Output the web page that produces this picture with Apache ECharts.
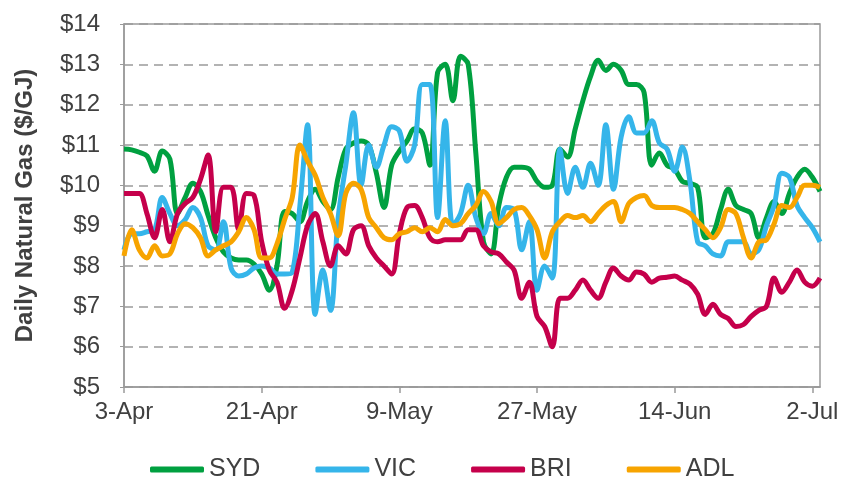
<!DOCTYPE html>
<html>
<head>
<meta charset="utf-8">
<script src="https://cdn.jsdelivr.net/npm/echarts@6/dist/echarts.min.js"></script>
<style>
  html, body { margin: 0; padding: 0; background: #fff; }
  #chart { width: 852px; height: 481px; }
</style>
</head>
<body>
<div id="chart"></div>
<script>
// daily prices, 3-Apr .. 3-Jul
const startDate = new Date(2000, 3, 3);
const dayCount = 92;
const months = ["Jan", "Feb", "Mar", "Apr", "May", "Jun", "Jul", "Aug", "Sep", "Oct", "Nov", "Dec"];

const syd = [10.9, 10.88, 10.82, 10.73, 10.35, 10.85, 10.65, 9.3, 9.7, 10.05,
  9.85, 9.25, 8.7, 8.35, 8.2, 8.15, 8.15, 8.05, 7.8, 7.4,
  8.0, 9.35, 9.3, 9.1, 9.6, 9.9, 9.6, 9.4, 10.2, 10.9,
  11.05, 11.1, 11.0, 10.3, 9.45, 10.5, 10.85, 11.1, 11.4, 11.3,
  10.5, 12.8, 13.0, 12.1, 13.2, 13.0, 10.8, 8.6, 8.3, 9.5,
  10.2, 10.45, 10.45, 10.4, 10.1, 9.95, 10.0, 10.9, 10.7, 11.4,
  12.1, 12.7, 13.1, 12.85, 13.0, 12.85, 12.5, 12.5, 12.3, 10.5,
  10.8, 10.5, 10.4, 10.1, 10.05, 9.95, 8.7, 8.8, 9.4, 9.9,
  9.5, 9.4, 9.3, 8.7, 9.2, 9.6, 9.3, 9.8, 10.2, 10.4,
  10.2, 9.85];

const vic = [8.4, 8.8, 8.8, 8.85, 8.9, 9.7, 9.3, 9.0, 9.15, 9.45,
  9.2, 8.5, 8.4, 9.1, 7.95, 7.75, 7.8, 7.95, 8.0, 7.95,
  7.8, 7.8, 7.85, 9.5, 11.5, 6.8, 7.9, 6.9, 9.2, 10.5,
  11.8, 10.0, 11.0, 10.45, 11.0, 11.45, 11.35, 10.6, 11.0, 12.5,
  12.5, 9.2, 11.6, 9.0, 9.3, 10.0, 9.2, 8.8, 9.3, 9.0,
  9.45, 9.4, 8.4, 9.1, 7.4, 8.0, 7.7, 10.9, 9.8, 10.45,
  9.95, 10.55, 10.0, 11.5, 9.9, 11.2, 11.7, 11.3, 11.3, 11.6,
  11.05, 10.9, 10.35, 10.95, 10.1, 8.6, 8.5, 8.3, 8.25, 8.6,
  8.6, 8.6, 8.3, 8.4, 9.0, 9.5, 10.3, 10.2, 9.5, 9.2,
  8.95, 8.6];

const bri = [9.8, 9.8, 9.8, 9.3, 8.7, 9.4, 8.6, 9.3, 9.55, 9.7,
  10.15, 10.75, 8.85, 9.95, 9.95, 8.9, 9.8, 9.75, 8.6, 7.9,
  7.6, 6.95, 7.4, 8.2, 9.0, 9.3, 8.6, 8.0, 8.5, 8.3,
  8.9, 9.0, 8.5, 8.2, 8.0, 7.8, 8.8, 9.45, 9.5, 9.2,
  8.7, 8.6, 8.65, 8.65, 8.65, 8.9, 8.9, 8.5, 8.35, 8.3,
  8.1, 7.9, 7.2, 7.6, 6.75, 6.5, 6.0, 7.2, 7.2, 7.4,
  7.65, 7.4, 7.2, 7.6, 7.95, 7.75, 7.65, 7.85, 7.8, 7.6,
  7.7, 7.72, 7.75, 7.65, 7.55, 7.3, 6.8, 7.05, 6.8, 6.7,
  6.5, 6.55, 6.75, 6.9, 7.0, 7.7, 7.35, 7.6, 7.9, 7.6,
  7.5, 7.7];

const adl = [8.25, 8.9, 8.4, 8.2, 8.5, 8.25, 8.3, 8.8, 9.05, 8.95,
  8.7, 8.25, 8.4, 8.5, 8.6, 8.85, 9.2, 8.9, 8.2, 8.2,
  8.55, 9.15, 9.7, 11.0, 10.6, 10.25, 9.7, 9.3, 8.75, 9.8,
  10.05, 9.9, 9.2, 8.95, 8.7, 8.65, 8.8, 8.85, 8.95, 8.85,
  8.95, 8.85, 9.15, 9.0, 9.05, 9.3, 9.5, 9.85, 9.6, 9.05,
  9.2, 9.4, 9.45, 9.25, 8.9, 8.2, 8.85, 9.1, 9.25, 9.2,
  9.25, 9.1, 9.3, 9.5, 9.6, 9.1, 9.55, 9.7, 9.75, 9.5,
  9.45, 9.45, 9.45, 9.4, 9.3, 9.1, 8.9, 8.7, 8.95, 9.4,
  9.3, 8.7, 8.2, 8.6, 8.65, 9.05, 9.5, 9.45, 9.7, 10.0,
  10.0, 9.95];

const seriesNames = ["SYD", "VIC", "BRI", "ADL"];
const seriesColors = ["#00A040", "#35B5EA", "#C5004B", "#F7A400"];

const days = [];
for (let i = 0; i < dayCount; i++) {
  const d = new Date(startDate.getTime());
  d.setDate(d.getDate() + i);
  days.push(d.getDate() + "-" + months[d.getMonth()]);
}

const chart = echarts.init(document.getElementById("chart"));
const font = "'Liberation Sans', Arial, sans-serif";

const series = [syd, vic, bri, adl].map((data, i) => ({
  name: seriesNames[i],
  type: "line",
  data: data,
  smooth: 0.35,
  symbol: "none",
  lineStyle: { width: 5, color: seriesColors[i] },
  itemStyle: { color: seriesColors[i] },
}));

const options = {
  animation: false,
  textStyle: { fontFamily: font },
  grid: {
    left: 124,
    right: 32,
    top: 24,
    bottom: 94,
    show: true,
    borderColor: "#9a9a9a",
    borderWidth: 1.5,
  },
  legend: {
    data: seriesNames,
    left: 145,
    top: 452,
    itemWidth: 54,
    itemHeight: 6,
    itemGap: 55,
    icon: "roundRect",
    textStyle: { fontSize: 25, color: "#404040", fontFamily: font },
  },
  xAxis: {
    type: "category",
    boundaryGap: false,
    data: days,
    axisLine: { lineStyle: { color: "#9a9a9a", width: 1.5 } },
    axisTick: { interval: 17, length: 6, lineStyle: { color: "#9a9a9a", width: 1.5 } },
    axisLabel: { interval: 17, fontSize: 24, color: "#404040", margin: 13 },
    splitLine: { show: false },
  },
  yAxis: {
    type: "value",
    min: 5,
    max: 14,
    interval: 1,
    name: "Daily Natural Gas ($/GJ)",
    nameLocation: "middle",
    nameGap: 87,
    nameTextStyle: { fontSize: 24, fontWeight: "bold", color: "#404040" },
    axisLine: { show: true, lineStyle: { color: "#9a9a9a", width: 1.5 } },
    axisTick: { show: true, length: 4, lineStyle: { color: "#9a9a9a" } },
    axisLabel: { fontSize: 24, color: "#404040", margin: 24, formatter: (v) => "$" + v },
    splitLine: { lineStyle: { color: "#9a9a9a", width: 1.5, type: [9, 6] } },
  },
  series: series,
};

chart.setOption(options);
</script>
</body>
</html>
